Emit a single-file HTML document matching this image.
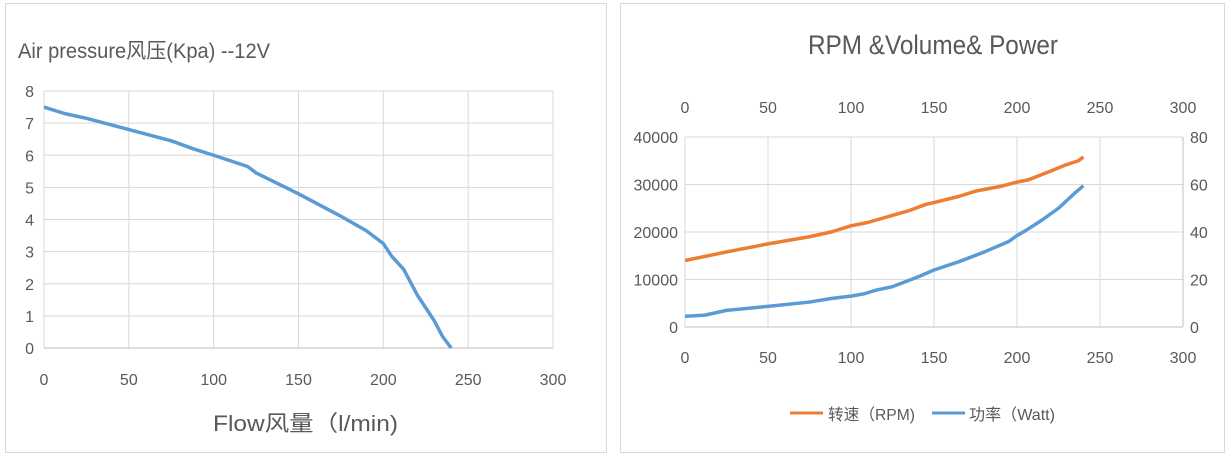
<!DOCTYPE html>
<html><head><meta charset="utf-8"><style>
html,body{margin:0;padding:0;background:#fff;width:1230px;height:457px;overflow:hidden}
text{font-family:"Liberation Sans","Noto Sans CJK SC",sans-serif;fill:#595959}
</style></head><body>
<svg id="s" width="1230" height="457" xmlns="http://www.w3.org/2000/svg">
<rect x="5.5" y="3.5" width="601" height="449" fill="#fff" stroke="#d9d9d9"/>
<rect x="620.5" y="3.5" width="604" height="449" fill="#fff" stroke="#d9d9d9"/>
<text x="18" y="58" font-size="21" textLength="252" lengthAdjust="spacingAndGlyphs">Air pressure风压(Kpa)  --12V</text>
<text x="808" y="54" font-size="27" textLength="250" lengthAdjust="spacingAndGlyphs">RPM &amp;Volume&amp; Power</text>
<text x="213" y="431" font-size="22" textLength="185" lengthAdjust="spacingAndGlyphs">Flow风量（l/min)</text>
<g id="g"></g>
<line x1="790" y1="413" x2="823" y2="413" stroke="#ed7d31" stroke-width="3"/>
<text x="828" y="420" font-size="16" textLength="87" lengthAdjust="spacingAndGlyphs">转速（RPM)</text>
<line x1="932" y1="413" x2="965" y2="413" stroke="#5b9bd5" stroke-width="3"/>
<text x="969" y="420" font-size="16" textLength="86" lengthAdjust="spacingAndGlyphs">功率（Watt)</text>
</svg>
<script>
var g=document.getElementById('g'),h='';
function L(a,b,c,d,col,w){h+='<line x1="'+a+'" y1="'+b+'" x2="'+c+'" y2="'+d+'" stroke="'+col+'" stroke-width="'+(w||1)+'"/>';}
function T(x,y,s,anc){h+='<text x="'+x+'" y="'+y+'" font-size="16" text-anchor="'+(anc||'middle')+'">'+s+'</text>';}
var X0=44,X1=553,Y0=348,Y8=91;
for(var i=0;i<=6;i++){var x=X0+(X1-X0)*i/6;L(x,Y8,x,Y0,'#d9d9d9');T(x,385,i*50);}
for(var i=0;i<=8;i++){var y=Y0-(Y0-Y8)*i/8;L(X0,y,X1,y,'#d9d9d9');T(34,y+6,i,'end');}
L(X0,Y0,X1,Y0,'#bfbfbf');
var p=[[0,7.5],[12,7.3],[25,7.15],[50,6.8],[75,6.45],[88,6.2],[100,6.0],[120,5.65],[125,5.45],[150,4.8],[175,4.1],[190,3.65],[200,3.25],[205,2.85],[212,2.45],[220,1.65],[230,0.85],[235,0.35],[240,0]];
h+='<polyline fill="none" stroke="#5b9bd5" stroke-width="3.5" stroke-linejoin="round" points="'+p.map(function(q){return (X0+q[0]/300*(X1-X0))+','+(Y0-q[1]/8*(Y0-Y8))}).join(' ')+'"/>';
var A=685,B=1183,C=327,D=137;
for(var i=0;i<=6;i++){var x=A+(B-A)*i/6;L(x,D,x,C,'#d9d9d9');T(x,113,i*50);T(x,363,i*50);}
for(var i=0;i<=4;i++){var y=C-(C-D)*i/4;L(A,y,B,y,'#d9d9d9');T(678,y+6,i*10000,'end');T(1190,y+6,i*20,'start');}
L(A,C,B,C,'#bfbfbf');L(A,D,A,C,'#d9d9d9');L(B,D,B,C,'#bfbfbf');
var o=[[0,14000],[25,15800],[50,17500],[75,19000],[88,20000],[100,21300],[110,22000],[120,23000],[135,24500],[145,25800],[150,26200],[165,27500],[175,28600],[190,29600],[200,30500],[207,31000],[220,32800],[230,34200],[237,35000],[240,35800]];
h+='<polyline fill="none" stroke="#ed7d31" stroke-width="3.5" stroke-linejoin="round" points="'+o.map(function(q){return (A+q[0]/300*(B-A))+','+(C-q[1]/40000*(C-D))}).join(' ')+'"/>';
var b=[[0,4.5],[12,5],[25,7],[50,8.7],[75,10.5],[88,12],[100,13],[108,14],[115,15.5],[125,17],[140,21],[150,24],[165,27.5],[180,31.5],[195,36],[200,38.5],[205,40.5],[215,45],[225,50],[235,56.5],[240,59.5]];
h+='<polyline fill="none" stroke="#5b9bd5" stroke-width="3.5" stroke-linejoin="round" points="'+b.map(function(q){return (A+q[0]/300*(B-A))+','+(C-q[1]/80*(C-D))}).join(' ')+'"/>';
g.innerHTML=h;
</script>
</body></html>
